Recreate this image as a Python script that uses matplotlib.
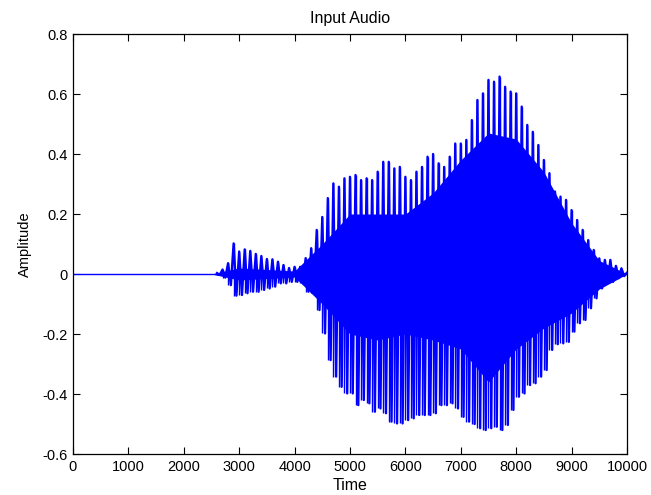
import matplotlib
matplotlib.use('Agg')
import matplotlib.pyplot as plt
from matplotlib.ticker import FuncFormatter
import numpy as np

plt.rcParams['font.family'] = ['Liberation Sans', 'DejaVu Sans']
plt.rcParams['font.size'] = 10

# silent lead-in before the first voiced part
quiet_t = [0, 2600]
quiet_v = [0.0, 0.0]

# waveform read every 100 samples from 2600 to 10000: positive / negative peak
peak_t = np.arange(2600, 10001, 100)
peak_hi = [
    0.003, 0.015, 0.036, 0.102, 0.075, 0.082, 0.077, 0.067, 0.060, 0.050,
    0.049, 0.041, 0.030, 0.020, 0.024, 0.024, 0.053, 0.086, 0.147, 0.190,
    0.253, 0.302, 0.291, 0.319, 0.324, 0.330, 0.313, 0.319, 0.313, 0.341,
    0.374, 0.374, 0.352, 0.357, 0.324, 0.313, 0.341, 0.357, 0.391, 0.400,
    0.369, 0.357, 0.391, 0.435, 0.435, 0.447, 0.513, 0.580, 0.602, 0.647,
    0.641, 0.658, 0.624, 0.608, 0.602, 0.558, 0.497, 0.474, 0.430, 0.380,
    0.336, 0.275, 0.258, 0.247, 0.213, 0.180, 0.147, 0.113, 0.080, 0.052,
    0.047, 0.047, 0.027, 0.019, 0.005,
]
peak_lo = [
    -0.003, -0.012, -0.037, -0.072, -0.070, -0.064, -0.059, -0.059, -0.053, -0.048,
    -0.042, -0.031, -0.031, -0.026, -0.026, -0.031, -0.059, -0.064, -0.120, -0.198,
    -0.287, -0.342, -0.376, -0.398, -0.398, -0.437, -0.420, -0.431, -0.459, -0.448,
    -0.464, -0.492, -0.498, -0.498, -0.487, -0.481, -0.470, -0.470, -0.470, -0.464,
    -0.437, -0.437, -0.431, -0.448, -0.476, -0.492, -0.500, -0.514, -0.520, -0.514,
    -0.509, -0.520, -0.503, -0.453, -0.409, -0.398, -0.370, -0.364, -0.342, -0.320,
    -0.253, -0.234, -0.231, -0.226, -0.192, -0.164, -0.153, -0.114, -0.081, -0.048,
    -0.031, -0.026, -0.014, -0.007, -0.003,
]

# solid core of the waveform, read every 500 samples
core_t = [2500, 3000, 3500, 4000, 4500, 5000, 5500, 6000, 6500,
          7000, 7500, 8000, 8500, 9000, 9500, 10000]
core_hi = [0.0, 0.02, 0.015, 0.01, 0.10, 0.20, 0.20, 0.20, 0.27,
           0.38, 0.47, 0.45, 0.34, 0.17, 0.045, 0.0]
core_lo = [0.0, -0.02, -0.015, -0.01, -0.10, -0.20, -0.22, -0.20, -0.22,
           -0.25, -0.36, -0.25, -0.18, -0.13, -0.05, 0.0]

blue = '#0000ff'

fig = plt.figure(figsize=(6.51, 4.95), dpi=100)
ax = fig.add_axes([0.1121, 0.0828, 0.851, 0.8485])

# zig-zag through the positive and negative peaks gives the waveform strokes
zig_t = np.empty(2 * len(peak_t))
zig_v = np.empty(2 * len(peak_t))
zig_t[0::2] = peak_t
zig_t[1::2] = peak_t + 50
zig_v[0::2] = peak_hi
zig_v[1::2] = peak_lo

ax.fill_between(core_t, core_lo, core_hi, color=blue, lw=0)
ax.plot(quiet_t, quiet_v, color=blue, lw=1)
ax.plot(zig_t, zig_v, color=blue, lw=1.7)
ax.vlines(peak_t, peak_lo, peak_hi, colors=blue, linewidths=1.0)

ax.set_xlim(0, 10000)
ax.set_ylim(-0.6, 0.8)
ax.set_xticks(np.arange(0, 10001, 1000))
ax.set_yticks(np.arange(-0.6, 0.81, 0.2))
ax.yaxis.set_major_formatter(FuncFormatter(lambda v, p: f'{round(v, 1):g}'))
ax.tick_params(direction='in', length=5, width=0.8, top=True, right=True,
               labelsize=10.5, pad=4)
for s in ax.spines.values():
    s.set_linewidth(0.9)

ax.set_title('Input Audio', fontsize=11.5, pad=8)
ax.set_xlabel('Time', fontsize=11.5, labelpad=3)
ax.set_ylabel('Amplitude', fontsize=10.5, labelpad=7)

fig.savefig('out.png', dpi=100, facecolor='white')
